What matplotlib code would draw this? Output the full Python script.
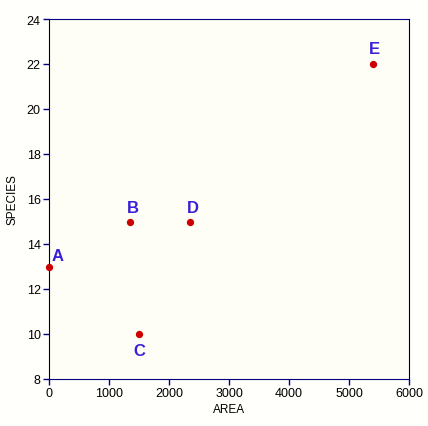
import matplotlib.pyplot as plt

# data
names = ["A", "B", "C", "D", "E"]
area = [0, 1350, 1500, 2350, 5400]
species = [13, 15, 10, 15, 22]
# label placement (offset in points)
offsets = [(6, 8), (2, 10), (0, -12), (2, 10), (1, 11)]

plt.rcParams["font.family"] = ["Liberation Sans", "DejaVu Sans"]

bg = "#FFFEF6"
fig = plt.figure(figsize=(4.28, 4.27), dpi=100, facecolor="white")
ax = fig.add_axes([49 / 428, 1 - 380 / 427, 360 / 428, 360 / 427])
ax.set_facecolor(bg)
fig.patch.set_facecolor("#FFFFFC")

ax.scatter(area, species, s=18, color="#CC0000", zorder=3, clip_on=False)
for n, x, y, (dx, dy) in zip(names, area, species, offsets):
    ax.annotate(n, (x, y), xytext=(dx, dy), textcoords="offset points",
                ha="center", va="center", fontsize=12, fontweight="bold",
                color="#3A1FD8")

ax.set_xlim(0, 6000)
ax.set_ylim(8, 24)
ax.set_xticks(range(0, 6001, 1000))
ax.set_yticks(range(8, 25, 2))
ax.tick_params(direction="out", length=4, width=1, colors="#000080",
               labelcolor="black", labelsize=9, pad=2)

ax.spines["top"].set_color("#000080")
ax.spines["bottom"].set_color("#000080")
ax.spines["left"].set_color("black")
ax.spines["right"].set_color("black")

ax.set_xlabel("AREA", fontsize=8.5, labelpad=3)
ax.set_ylabel("SPECIES", fontsize=8.5, labelpad=6)

fig.savefig("out.png", dpi=100, facecolor=fig.get_facecolor())
